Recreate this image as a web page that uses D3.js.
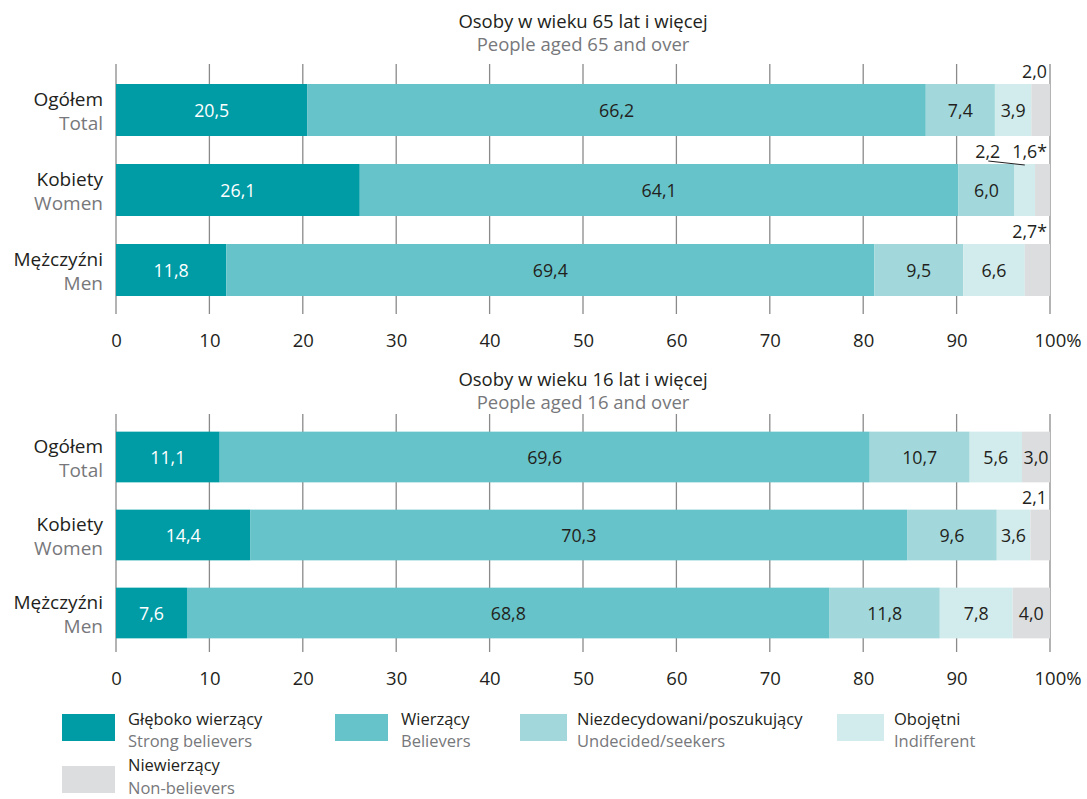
<!DOCTYPE html>
<html><head><meta charset="utf-8">
<script src="https://cdn.jsdelivr.net/npm/d3@7"></script>
<style>body{margin:0;background:#fff}svg{display:block}text{font-family:"Open Sans",sans-serif}</style>
</head><body>
<svg id="c" width="1087" height="799"></svg>
<script>
const categories = ["Ogółem","Kobiety","Mężczyźni"];
const categoriesEn = ["Total","Women","Men"];
const seriesPl = ["Głęboko wierzący","Wierzący","Niezdecydowani/poszukujący","Obojętni","Niewierzący"];
const seriesEn = ["Strong believers","Believers","Undecided/seekers","Indifferent","Non-believers"];
const colors = ["#009ca6","#66c3c9","#a2d8db","#d2ebec","#dcdddf"];
const titlesPl = ["Osoby w wieku 65 lat i więcej","Osoby w wieku 16 lat i więcej"];
const titlesEn = ["People aged 65 and over","People aged 16 and over"];
const values65 = [[20.5,66.2,7.4,3.9,2.0],[26.1,64.1,6.0,2.2,1.6],[11.8,69.4,9.5,6.6,2.7]];
const values16 = [[11.1,69.6,10.7,5.6,3.0],[14.4,70.3,9.6,3.6,2.1],[7.6,68.8,11.8,7.8,4.0]];
const starred65 = [[],[4],[4]];
const starred16 = [[],[],[]];
const ticks = [0,10,20,30,40,50,60,70,80,90,100];

const svg = d3.select("#c");
const x = d3.scaleLinear().domain([0,100]).range([116,1050]);
const fmt = v => d3.format(".1f")(v).replace(".",",");
const dark="#231f20", gray="#77787b";
const FS = 17.8;

const panels = [
  {values:values65, starred:starred65, tPl:titlesPl[0], tEn:titlesEn[0], titleY:28, top:70, step:80, gridTop:64, gridBottom:314, tickY:347},
  {values:values16, starred:starred16, tPl:titlesPl[1], tEn:titlesEn[1], titleY:386, top:418, step:78, gridTop:414, gridBottom:652, tickY:685}
];

panels.forEach(p => {
  const g = svg.append("g");
  g.append("text").attr("x",583).attr("y",p.titleY).attr("text-anchor","middle").attr("font-size",18.5).attr("fill",dark).text(p.tPl);
  g.append("text").attr("x",583).attr("y",p.titleY+23).attr("text-anchor","middle").attr("font-size",18.5).attr("fill",gray).text(p.tEn);
  g.selectAll("line.grid").data(ticks).join("line").attr("class","grid")
    .attr("x1",d=>x(d)).attr("x2",d=>x(d)).attr("y1",p.gridTop).attr("y2",p.gridBottom)
    .attr("stroke","#8a8a8a").attr("stroke-width",1.3);
  const y = d3.scaleBand().domain(categories).range([p.top,p.top+3*p.step]).paddingInner(28/80).paddingOuter(28/160);
  const ax = g.append("g").attr("transform",`translate(0,${p.tickY})`)
    .call(d3.axisBottom(x).tickValues(ticks).tickSize(0).tickPadding(0).tickFormat(d=>d));
  ax.select(".domain").remove();
  ax.selectAll("text").attr("font-size",18.5).attr("fill",dark).attr("font-family","Open Sans").attr("dy",0).attr("y",0);
  ax.selectAll(".tick").filter(d=>d===100).select("text").text("100%").attr("text-anchor","start").attr("dx",-16);

  categories.forEach((c,i) => {
    const vals = p.values[i];
    const y0 = y(c), bh = y.bandwidth(), cy = y0+bh/2;
    const stack = d3.cumsum(vals);
    const segs = vals.map((v,j)=>({v, j, a: j?stack[j-1]:0, b: stack[j]}));
    const row = g.append("g");
    row.selectAll("rect").data(segs).join("rect")
      .attr("x",d=>x(d.a)).attr("width",d=>x(d.b)-x(d.a)).attr("y",y0).attr("height",bh)
      .attr("fill",d=>colors[d.j]);
    const inside = segs.filter(d=>d.v>=2.9);
    row.selectAll("text.v").data(inside).join("text").attr("class","v")
      .attr("x",d=>x((d.a+d.b)/2)).attr("y",cy+6.5).attr("text-anchor","middle")
      .attr("font-size",FS).attr("fill",d=>d.j===0?"#fff":dark)
      .text(d=>fmt(d.v));
    const outside = segs.filter(d=>d.v<2.9).reverse();
    let right = 1047;
    outside.forEach((d,k) => {
      const label = fmt(d.v) + (p.starred[i].includes(d.j)?"*":"");
      const t = row.append("text").attr("x",right).attr("y",y0-6).attr("text-anchor","end")
        .attr("font-size",FS).attr("fill",dark).text(label);
      const w = t.node().getComputedTextLength();
      if (k>0) {
        row.append("line").attr("x1",right-12).attr("y1",y0-3).attr("x2",x((d.a+d.b)/2)).attr("y2",y0+1)
          .attr("stroke",dark).attr("stroke-width",1);
      }
      right = right - w - 12;
    });
    g.append("text").attr("x",103).attr("y",cy-4).attr("text-anchor","end").attr("font-size",19).attr("fill",dark).text(c);
    g.append("text").attr("x",103).attr("y",cy+20).attr("text-anchor","end").attr("font-size",19).attr("fill",gray).text(categoriesEn[i]);
  });
});

// legend
const LFS = 16.5;
const legPos = [[62,714],[335,714],[520,714],[837,714],[62,766]];
const legDy = [[11,33],[11,33],[11,33],[11,33],[5,27.5]];
const lg = svg.append("g").selectAll("g").data(seriesPl).join("g")
  .attr("transform",(d,i)=>`translate(${legPos[i][0]},${legPos[i][1]})`);
lg.append("rect").attr("width",(d,i)=>i<2||i===4?53:47).attr("height",27).attr("fill",(d,i)=>colors[i]);
lg.append("text").attr("x",(d,i)=>i<2||i===4?66:57).attr("y",(d,i)=>legDy[i][0]).attr("font-size",LFS).attr("fill",dark).text(d=>d);
lg.append("text").attr("x",(d,i)=>i<2||i===4?66:57).attr("y",(d,i)=>legDy[i][1]).attr("font-size",LFS).attr("fill",gray).text((d,i)=>seriesEn[i]);
</script>
</body></html>
